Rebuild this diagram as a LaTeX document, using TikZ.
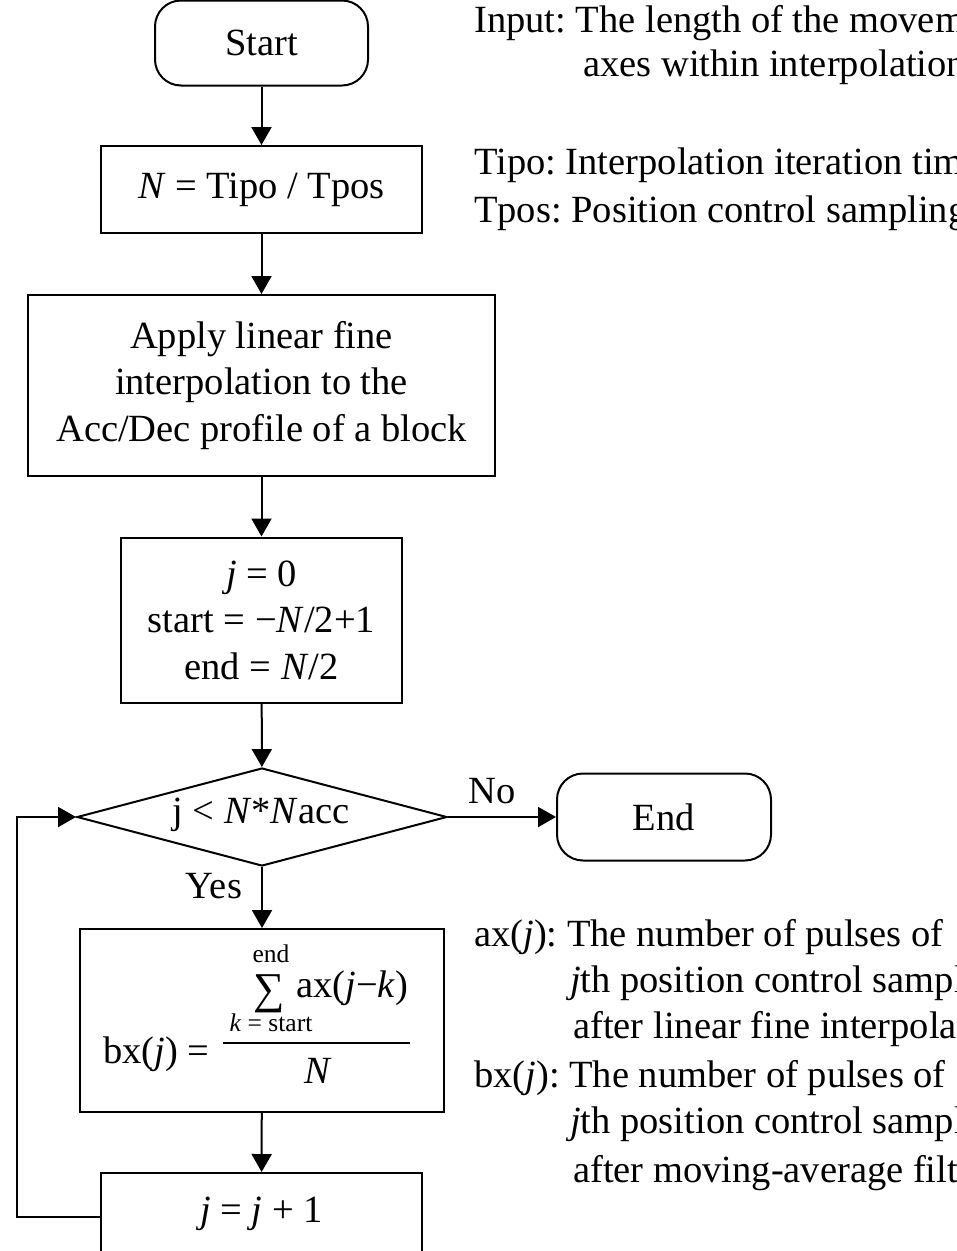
\documentclass[tikz,border=0pt]{standalone}
\usepackage{fontspec}
\setmainfont{Liberation Serif}
\usetikzlibrary{arrows.meta,shapes.geometric}
\frenchspacing
\begin{document}
\begin{tikzpicture}[x=1pt,y=-1pt,
  every node/.style={font=\frenchspacing\fontsize{38.5}{46.5}\selectfont},
  box/.style={draw,line width=2pt,inner sep=0pt,align=center},
  term/.style={box,rounded corners=26pt},
  dec/.style={draw,line width=2pt,shape=diamond,inner sep=0pt},
  arr/.style={line width=2pt,-{Triangle[length=18pt,width=20pt]}},
  note/.style={anchor=base west,inner sep=0pt},
  small/.style={font=\fontsize{25.5}{28}\selectfont,inner sep=0pt}]
\useasboundingbox (0,0) rectangle (957,1251);
\clip (0,0) rectangle (957,1251);
\node[term,minimum width=213pt,minimum height=85pt] (start) at (261.5,43) {Start};
\node[box,minimum width=321pt,minimum height=87pt] (n) at (261.5,189.5) {\textit{N} = Tipo / Tpos};
\node[box,minimum width=467pt,minimum height=181pt] (apply) at (261.5,385.5) {Apply linear fine\\interpolation to the\\Acc/Dec profile of a block};
\node[box,minimum width=281pt,minimum height=165pt] (init) at (261.5,620) {\textit{j} = 0\\start = −\textit{N}/2+1\\end = \textit{N}/2};
\node[dec,minimum width=370pt,minimum height=98pt] (dia) at (262,817) {};
\node at (261,815) {j < \textit{N}*\textit{N}acc};
\node[term,minimum width=214pt,minimum height=87pt] (end) at (664,817) {End};
\node[box,minimum width=364pt,minimum height=183pt] (bx) at (262,1020.5) {};
\node[box,minimum width=321pt,minimum height=87pt] (jj) at (261.5,1216.5) {};
\node at (261.5,1214) {\textit{j} = \textit{j} + 1};
% formula
\node[small] (fend) at (271,954) {end};
\node[inner sep=0pt,anchor=base,font=\fontsize{44}{44}\selectfont] (fsum) at (269,1003) {∑};
\node[inner sep=0pt,anchor=base west] (fax) at (296,997) {ax(\textit{j}−\textit{k})};
\node[small,anchor=base] (fk) at (271,1031) {\textit{k} = start};
\coordinate (fl) at (223,1043);
\coordinate (fr) at (410,1043);
\draw[line width=2pt] (fl) -- (fr);
\node[inner sep=0pt,anchor=base] (fn) at (318,1083) {\textit{N}};
\node[inner sep=0pt,anchor=base west] (fbx) at (103,1063) {bx(\textit{j}) =};
% connectors
\draw[arr] (start) -- (n);
\draw[arr] (n) -- (apply);
\draw[arr] (apply) -- (init);
\draw[arr] (init) -- (dia);
\draw[arr] (dia.east) -- (end.west);
\draw[arr] (dia.south) -- (bx.north);
\draw[arr] (bx) -- (jj);
\draw[arr] (jj.west) -- ++(-83,0) |- (dia.west);
\node at (492,791) {No};
\node at (214,886) {Yes};
% notes
\node[note] (in1) at (474,32) {Input: The length of the movement};
\node[note] (in2) at (583,76) {axes within interpolation};
\node[note] (tipo) at (474,174) {Tipo: Interpolation iteration time};
\node[note] (tpos) at (474,222) {Tpos: Position control sampling};
\node[note] (ax1) at (474,946) {ax(\textit{j}): The number of pulses of};
\node[note] (ax2) at (570,992) {\textit{j}th position control sampling};
\node[note] (ax3) at (573,1038) {after linear fine interpolation};
\node[note] (bx1) at (474,1087) {bx(\textit{j}): The number of pulses of};
\node[note] (bx2) at (570,1133) {\textit{j}th position control sampling};
\node[note] (bx3) at (573,1182) {after moving-average filter};
\end{tikzpicture}
\end{document}
